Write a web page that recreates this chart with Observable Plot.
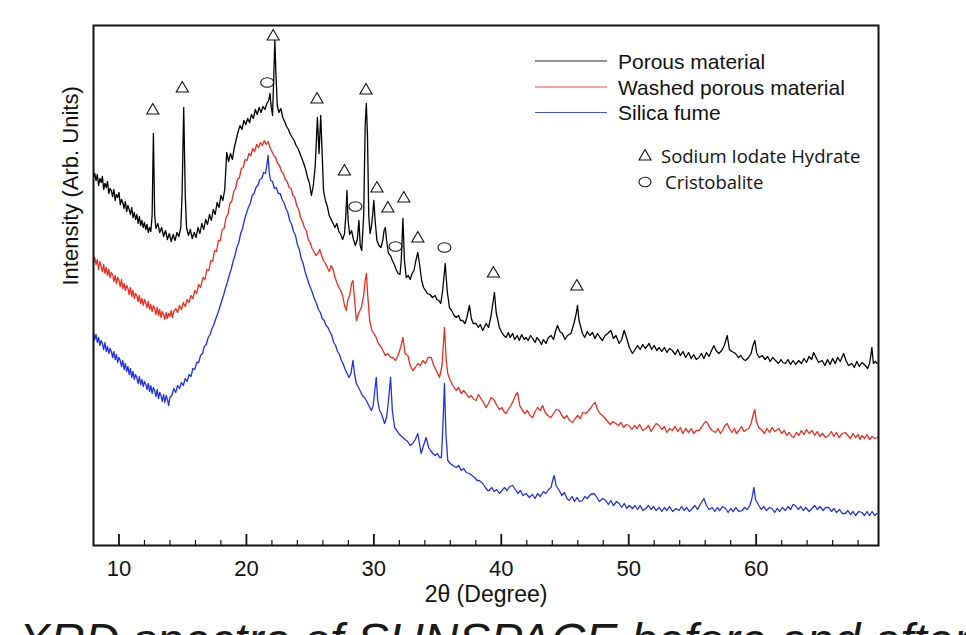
<!DOCTYPE html>
<html>
<head>
<meta charset="utf-8">
<script src="https://cdn.jsdelivr.net/npm/d3@7"></script>
<script src="https://cdn.jsdelivr.net/npm/@observablehq/plot@0.6"></script>
<style>
  html, body { margin: 0; padding: 0; background: #fff; }
  #wrap { position: relative; width: 966px; height: 635px; overflow: hidden; background: #fff; }
  #wrap svg { display: block; }
  #overlay { position: absolute; left: 0; top: 0; pointer-events: none; }
</style>
</head>
<body>
<div id="wrap"></div>
<script>
// ---------- data (2θ in degrees, intensity in arbitrary units) ----------
const seriesNames = ["Porous material", "Washed porous material", "Silica fume"];
const seriesColors = ["#000000", "#ee2b1c", "#1f31e8"];
const xTicks = [10, 20, 30, 40, 50, 60];
const minorTicks = [12, 14, 16, 18, 22, 24, 26, 28, 32, 34, 36, 38, 42, 44, 46, 48, 52, 54, 56, 58, 62, 64, 66, 68];
const xLabel = "2θ (Degree)";
const yLabel = "Intensity (Arb. Units)";
const markerNames = ["Sodium Iodate Hydrate", "Cristobalite"];
const captionText = "XRD spectra of SUNSPACE before and after";

const porous = [
[8.0,368],[8.1,372],[8.2,365],[8.3,371],[8.4,360],[8.5,367],[8.6,363],[8.7,369],[8.8,356],[8.9,362],
[9.0,358],[9.1,364],[9.2,352],[9.3,357],[9.4,355],[9.5,349],[9.6,356],[9.7,345],[9.8,351],[9.9,348],
[10.0,353],[10.1,341],[10.2,346],[10.3,343],[10.4,337],[10.5,344],[10.6,334],[10.7,340],[10.8,336],[10.9,331],
[11.0,338],[11.1,328],[11.2,333],[11.3,326],[11.4,331],[11.5,322],[11.6,329],[11.7,320],[11.8,325],[11.9,318],
[12.0,323],[12.1,316],[12.2,321],[12.3,313],[12.4,318],[12.5,314],
[12.6,330],[12.7,412],[12.8,330],[12.9,317],[13.05,322],[13.2,313],[13.35,318],[13.5,309],[13.65,315],
[13.8,306],[13.95,312],[14.1,304],[14.25,311],[14.4,305],[14.55,313],[14.7,309],[14.85,318],[14.95,350],[15.08,438],
[15.2,350],[15.3,318],[15.45,310],[15.6,316],[15.75,307],[15.9,313],[16.05,308],[16.2,318],[16.35,312],[16.5,322],
[16.65,316],[16.8,326],[16.95,321],[17.1,331],[17.25,325],[17.4,336],[17.55,331],[17.7,343],[17.85,338],[18.0,350],
[18.15,345],[18.3,356],[18.45,393],[18.6,384],[18.75,392],[18.9,386],[19.05,398],[19.2,406],[19.35,414],[19.5,420],
[19.65,416],[19.8,425],[19.95,421],[20.1,427],[20.25,423],[20.4,431],[20.55,427],[20.7,436],[20.85,431],[21.0,438],
[21.15,433],[21.3,439],[21.45,436],[21.6,442],[21.75,445],[21.85,452],[21.95,438],[22.05,430],[22.15,470],[22.23,505],
[22.32,470],[22.42,440],[22.55,433],[22.7,437],[22.85,428],[23.0,424],[23.15,419],[23.3,416],[23.45,411],[23.6,408],
[23.75,405],[23.9,400],[24.05,397],[24.2,392],[24.35,387],[24.5,382],[24.65,376],[24.8,368],[24.95,362],[25.1,350],
[25.25,360],[25.4,380],[25.57,428],[25.7,392],[25.83,430],[25.95,390],[26.05,355],[26.2,345],[26.35,339],[26.5,330],
[26.65,326],[26.8,322],[26.95,318],[27.1,322],[27.25,314],[27.4,311],[27.55,306],[27.7,312],[27.8,330],[27.89,355],
[27.98,325],[28.1,311],[28.25,315],[28.4,306],[28.55,300],[28.7,306],[28.83,325],[28.93,300],[29.05,295],[29.2,330],
[29.32,420],[29.41,442],[29.5,410],[29.6,330],[29.7,312],[29.8,318],[29.9,330],[30.0,345],[30.1,325],[30.24,305],
[30.4,300],[30.55,298],[30.7,305],[30.8,315],[30.9,318],[31.0,305],[31.15,292],[31.3,290],[31.45,285],[31.6,281],
[31.75,276],[31.9,272],[32.05,271],[32.15,285],[32.28,327],[32.4,285],[32.54,268],[32.7,270],[32.85,266],[33.0,272],
[33.15,275],[33.3,285],[33.45,293],[33.6,280],[33.75,265],[33.9,258],[34.05,255],[34.2,252],[34.4,251],[34.6,248],
[34.8,250],[34.95,246],[35.1,245],[35.25,242],[35.4,255],[35.6,282],[35.75,255],[35.93,238],[36.1,235],[36.3,230],
[36.46,228],[36.65,230],[36.8,225],[36.97,225],[37.15,222],[37.3,228],[37.5,240],[37.65,227],[37.8,222],[38.02,222],
[38.2,218],[38.35,221],[38.54,215],[38.7,219],[38.81,222],[39.0,218],[39.2,230],[39.46,253],[39.6,233],[39.85,218],
[40.0,214],[40.2,210],[40.37,208],[40.55,213],[40.7,208],[40.89,212],[41.05,206],[41.25,210],[41.41,205],[41.6,211],
[41.8,206],[41.94,208],[42.1,205],[42.3,210],[42.46,207],[42.65,203],[42.8,208],[42.98,205],[43.15,201],[43.3,206],
[43.5,202],[43.7,208],[43.9,210],[44.1,206],[44.25,214],[44.41,220],[44.6,214],[44.8,212],[45.0,206],[45.2,210],
[45.46,212],[45.7,222],[45.85,230],[45.98,240],[46.1,225],[46.37,212],[46.55,208],[46.75,214],[46.95,210],[47.15,213],
[47.35,207],[47.55,212],[47.75,208],[47.94,205],[48.15,210],[48.35,212],[48.6,215],[48.8,207],[49.0,210],[49.25,202],
[49.45,206],[49.64,215],[49.85,207],[50.05,198],[50.29,192],[50.5,196],[50.7,200],[50.9,196],[51.1,201],[51.3,197],
[51.6,202],[51.8,196],[52.0,200],[52.2,195],[52.39,198],[52.6,194],[52.8,198],[53.0,193],[53.2,197],[53.42,195],
[53.65,191],[53.85,196],[54.05,190],[54.25,194],[54.47,188],[54.7,193],[54.9,187],[55.1,191],[55.3,186],[55.51,188],
[55.7,192],[55.9,187],[56.1,193],[56.3,189],[56.5,195],[56.68,200],[56.85,195],[57.07,192],[57.3,195],[57.5,200],
[57.73,210],[57.9,196],[58.1,194],[58.38,192],[58.6,188],[58.8,190],[59.0,186],[59.17,185],[59.4,188],[59.6,192],
[59.75,200],[59.9,205],[60.05,192],[60.25,188],[60.47,190],[60.7,186],[60.9,189],[61.1,184],[61.3,188],[61.52,185],
[61.75,182],[61.95,186],[62.1,183],[62.3,182],[62.5,186],[62.7,181],[62.9,185],[63.1,181],[63.34,185],[63.55,182],
[63.75,187],[63.95,183],[64.15,189],[64.35,186],[64.51,193],[64.7,188],[64.9,183],[65.17,185],[65.4,180],[65.6,186],
[65.8,181],[66.0,187],[66.2,182],[66.4,188],[66.6,184],[66.86,192],[67.05,185],[67.25,180],[67.51,182],[67.7,178],
[67.9,184],[68.1,179],[68.3,183],[68.56,180],[68.75,177],[68.9,182],[69.0,190],[69.08,198],[69.2,182],[69.35,184],[69.5,182]
];

const washed = [
[8.0,283],[8.1,288],[8.2,281],[8.3,286],[8.4,276],[8.5,284],[8.6,279],[8.7,274],[8.8,281],[8.9,272],
[9.0,278],[9.1,270],[9.2,276],[9.3,268],[9.4,273],[9.5,271],[9.6,264],[9.7,270],[9.8,262],[9.9,268],
[10.0,265],[10.1,259],[10.2,266],[10.3,257],[10.4,262],[10.5,255],[10.6,260],[10.7,257],[10.8,251],[10.9,258],
[11.0,249],[11.1,255],[11.2,247],[11.3,252],[11.4,250],[11.5,244],[11.6,250],[11.7,242],[11.8,247],[11.9,240],
[12.0,246],[12.1,243],[12.2,238],[12.3,244],[12.4,236],[12.5,241],[12.6,234],[12.7,240],[12.8,237],[12.9,231],
[13.0,238],[13.1,230],[13.2,236],[13.3,228],[13.4,234],[13.5,231],[13.6,226],[13.7,233],[13.8,227],[13.9,232],
[14.0,229],[14.1,235],[14.2,228],[14.3,234],
[14.45,237],[14.6,233],[14.75,240],[14.9,236],[15.05,243],[15.2,239],[15.35,246],
[15.5,243],[15.65,250],[15.8,247],[15.95,255],[16.1,252],[16.25,261],[16.4,258],[16.6,268],[16.75,266],[16.9,276],
[17.05,275],[17.2,285],[17.35,284],[17.5,295],[17.65,294],[17.8,305],[17.95,305],[18.1,316],[18.25,317],[18.4,328],
[18.55,331],[18.7,342],[18.85,344],[19.0,354],[19.15,357],[19.3,366],[19.45,368],[19.6,377],[19.75,378],[19.9,386],
[20.05,385],[20.2,392],[20.35,390],[20.5,397],[20.65,394],[20.8,401],[20.95,398],[21.1,403],[21.25,400],[21.4,405],
[21.55,401],[21.7,404],[21.85,398],[22.0,394],[22.15,390],[22.3,388],[22.45,382],[22.6,380],[22.75,374],[22.9,372],
[23.05,366],[23.2,364],[23.35,358],[23.5,357],[23.65,350],[23.8,348],[23.95,340],[24.1,336],[24.25,328],[24.4,324],
[24.55,318],[24.7,315],[24.85,306],[25.0,303],[25.15,297],[25.3,294],[25.45,290],[25.6,292],[25.75,296],[25.9,290],
[26.05,285],[26.2,282],[26.35,278],[26.5,274],[26.65,280],[26.8,276],[26.95,268],[27.1,263],[27.25,258],[27.4,255],
[27.55,250],[27.7,240],[27.84,235],[27.95,245],[28.1,250],[28.25,262],[28.36,265],[28.47,248],[28.63,225],[28.8,232],
[29.02,238],[29.2,250],[29.32,265],[29.41,272],[29.52,250],[29.67,225],[29.85,215],[30.0,212],[30.19,208],[30.35,202],
[30.55,199],[30.71,195],[30.9,190],[31.1,192],[31.3,188],[31.49,188],[31.7,185],[31.9,190],[32.1,198],[32.28,208],
[32.45,192],[32.67,190],[32.85,180],[33.06,175],[33.25,178],[33.45,182],[33.65,180],[33.84,185],[34.05,182],[34.25,188],
[34.5,188],[34.7,180],[34.9,175],[35.15,168],[35.35,180],[35.54,218],[35.68,185],[35.8,172],[36.0,165],[36.2,160],
[36.46,155],[36.65,158],[36.85,152],[37.05,155],[37.24,152],[37.45,148],[37.65,150],[37.85,146],[38.02,145],[38.2,151],
[38.4,147],[38.6,143],[38.81,138],[39.0,142],[39.2,148],[39.46,145],[39.65,140],[39.85,136],[40.05,138],[40.2,134],
[40.37,132],[40.55,136],[40.75,140],[40.95,145],[41.1,150],[41.28,153],[41.45,140],[41.67,135],[41.85,132],[42.05,135],
[42.25,130],[42.46,128],[42.65,134],[42.85,138],[43.05,135],[43.24,140],[43.45,133],[43.65,130],[43.9,128],[44.1,132],
[44.3,136],[44.55,135],[44.75,130],[44.95,127],[45.15,130],[45.35,125],[45.59,123],[45.8,127],[46.0,130],[46.2,127],
[46.4,133],[46.64,132],[46.85,135],[47.05,138],[47.2,141],[47.37,143],[47.55,136],[47.75,132],[47.94,130],[48.15,127],
[48.35,124],[48.55,121],[48.75,124],[48.99,122],[49.2,120],[49.4,123],[49.6,118],[49.8,121],[50.03,120],[50.25,116],
[50.45,120],[50.65,117],[50.85,121],[51.1,115],[51.34,117],[51.55,120],[51.75,114],[51.95,118],[52.15,122],[52.39,120],
[52.6,116],[52.8,119],[53.0,113],[53.2,117],[53.42,115],[53.65,119],[53.85,114],[54.05,118],[54.25,112],[54.47,117],
[54.7,113],[54.9,117],[55.1,112],[55.3,115],[55.51,115],[55.7,118],[55.9,122],[56.05,124],[56.16,123],[56.35,118],
[56.55,115],[56.82,113],[57.0,117],[57.2,112],[57.4,116],[57.55,120],[57.73,122],[57.9,117],[58.1,113],[58.3,117],
[58.45,112],[58.64,115],[58.85,119],[59.05,114],[59.25,116],[59.42,117],[59.6,122],[59.75,130],[59.89,136],[60.02,124],
[60.2,118],[60.47,115],[60.65,112],[60.85,117],[61.05,113],[61.25,118],[61.45,114],[61.78,117],[62.0,112],[62.2,115],
[62.4,110],[62.6,113],[62.8,109],[62.95,108],[63.15,113],[63.35,110],[63.55,115],[63.75,111],[63.95,116],[64.15,112],
[64.38,115],[64.6,110],[64.8,114],[65.0,109],[65.2,112],[65.45,108],[65.69,110],[65.9,114],[66.1,109],[66.3,113],
[66.5,108],[66.75,112],[66.99,113],[67.2,110],[67.4,107],[67.6,112],[67.8,108],[68.0,111],[68.15,106],[68.3,110],
[68.5,107],[68.7,111],[68.9,106],[69.1,109],[69.3,107],[69.5,108]
];

const silica = [
[8.0,212],[8.1,206],[8.2,211],[8.3,203],[8.4,208],[8.5,200],[8.6,205],[8.7,202],[8.8,196],[8.9,203],
[9.0,194],[9.1,199],[9.2,192],[9.3,197],[9.4,194],[9.5,188],[9.6,194],[9.7,186],[9.8,191],[9.9,183],
[10.0,188],[10.1,185],[10.2,179],[10.3,185],[10.4,176],[10.5,182],[10.6,174],[10.7,179],[10.8,171],[10.9,177],
[11.0,168],[11.1,174],[11.2,166],[11.3,171],[11.4,168],[11.5,162],[11.6,169],[11.7,161],[11.8,166],[11.9,159],
[12.0,164],[12.1,161],[12.2,156],[12.3,162],[12.4,154],[12.5,160],[12.6,152],[12.7,158],[12.8,155],[12.9,149],
[13.0,156],[13.1,147],[13.2,153],[13.3,150],[13.4,144],[13.5,151],[13.6,143],[13.7,150],[13.8,146],[13.9,140],
[14.0,148],[14.15,150],[14.3,157],[14.45,153],[14.6,160],[14.75,157],[14.9,163],[15.05,160],[15.2,167],[15.35,164],
[15.5,171],[15.65,169],[15.8,177],[15.95,176],[16.1,183],[16.25,183],[16.4,190],[16.55,192],[16.7,199],[16.85,201],
[17.0,208],[17.15,211],[17.3,217],[17.45,221],[17.6,227],[17.75,232],[17.9,238],[18.05,244],[18.2,250],[18.35,257],
[18.5,263],[18.65,270],[18.8,276],[18.95,284],[19.1,290],[19.25,298],[19.4,303],[19.55,312],[19.7,317],[19.85,326],
[20.0,332],[20.15,338],[20.3,342],[20.45,350],[20.6,352],[20.75,358],[20.9,360],[21.05,366],[21.2,367],[21.35,373],
[21.5,372],[21.6,380],[21.7,390],[21.8,372],[21.9,365],[22.05,364],[22.2,357],[22.35,358],[22.5,352],[22.65,352],
[22.8,346],[22.95,343],[23.1,337],[23.25,333],[23.4,325],[23.55,321],[23.7,314],[23.85,310],[24.0,301],[24.15,296],
[24.3,287],[24.45,282],[24.6,274],[24.75,268],[24.9,262],[25.05,257],[25.2,252],[25.35,246],[25.5,242],[25.65,236],
[25.8,233],[25.95,227],[26.1,225],[26.25,220],[26.4,218],[26.54,214],[26.7,210],[26.85,203],[27.0,200],[27.15,194],
[27.3,191],[27.45,185],[27.58,182],[27.75,176],[27.9,172],[28.05,168],[28.2,172],[28.36,185],[28.5,170],[28.63,162],
[28.8,158],[28.95,154],[29.1,150],[29.25,148],[29.41,145],[29.6,140],[29.8,135],[29.95,140],[30.1,158],[30.19,168],
[30.3,145],[30.45,135],[30.58,132],[30.72,127],[30.84,122],[31.0,128],[31.15,145],[31.31,168],[31.45,135],[31.63,118],
[31.8,115],[31.95,112],[32.1,110],[32.28,108],[32.45,106],[32.65,104],[32.85,100],[33.06,102],[33.25,106],[33.45,112],
[33.6,100],[33.71,92],[33.9,100],[34.1,108],[34.3,98],[34.45,95],[34.62,92],[34.8,90],[35.0,92],[35.15,88],
[35.3,88],[35.42,120],[35.54,162],[35.66,110],[35.8,85],[36.0,82],[36.2,80],[36.46,78],[36.65,80],[36.85,75],
[37.05,77],[37.25,73],[37.5,72],[37.7,70],[37.9,68],[38.1,65],[38.28,65],[38.54,62],[38.75,58],[38.93,55],
[39.06,55],[39.25,58],[39.45,54],[39.65,56],[39.85,52],[40.05,55],[40.25,58],[40.45,55],[40.65,59],[40.89,60],
[41.1,56],[41.3,52],[41.5,55],[41.7,50],[41.95,52],[42.2,48],[42.45,51],[42.65,47],[42.85,52],[43.05,49],
[43.3,54],[43.5,52],[43.7,56],[43.9,58],[44.05,66],[44.15,70],[44.3,60],[44.55,55],[44.75,50],[44.95,53],
[45.15,47],[45.33,45],[45.55,49],[45.75,44],[45.95,48],[46.15,44],[46.37,45],[46.55,49],[46.75,47],[47.0,51],
[47.29,52],[47.5,48],[47.7,44],[47.95,47],[48.2,45],[48.4,41],[48.6,45],[48.8,40],[49.05,44],[49.25,42],
[49.45,38],[49.65,42],[49.85,37],[50.05,40],[50.29,37],[50.5,40],[50.7,36],[50.9,40],[51.1,35],[51.34,37],
[51.55,40],[51.75,36],[51.95,39],[52.15,35],[52.39,38],[52.6,34],[52.8,38],[53.0,35],[53.2,39],[53.45,34],
[53.7,37],[53.95,35],[54.15,39],[54.35,35],[54.55,38],[54.75,34],[54.99,37],[55.2,40],[55.4,36],[55.65,42],
[55.9,47],[56.1,40],[56.3,36],[56.55,38],[56.75,34],[56.95,38],[57.15,35],[57.35,39],[57.6,37],[57.8,33],
[58.0,37],[58.2,34],[58.4,38],[58.65,34],[58.9,35],[59.1,38],[59.3,36],[59.5,40],[59.65,46],[59.82,58],
[59.95,46],[60.21,40],[60.4,36],[60.6,39],[60.8,35],[61.05,38],[61.25,37],[61.45,33],[61.65,37],[61.85,34],
[62.05,38],[62.3,35],[62.5,39],[62.7,36],[62.9,41],[63.08,40],[63.3,36],[63.5,39],[63.7,35],[63.9,38],
[64.15,34],[64.38,37],[64.6,40],[64.8,36],[65.0,39],[65.25,35],[65.45,38],[65.69,38],[65.9,34],[66.1,37],
[66.3,33],[66.55,36],[66.75,32],[66.99,32],[67.2,35],[67.4,31],[67.6,34],[67.8,30],[68.05,34],[68.3,33],
[68.5,30],[68.7,34],[68.9,30],[69.1,34],[69.3,30],[69.47,32]
];

// peak annotation markers: [2θ, label height]
const sodiumIodateMarks = [
[12.65,435],[14.97,457],[22.1,509],[25.54,446],[29.38,455],[27.69,374],
[30.24,357],[32.35,347],[31.1,337],[33.45,307],[39.38,272],[45.93,259]
];
const cristobaliteMarks = [[21.63,463],[28.55,339],[31.7,299],[35.54,298]];

// ---------- build ----------
const allSeries = [porous, washed, silica];
const rows = allSeries.flatMap((arr, i) => arr.map(([a, v]) => ({angle: a, intensity: v, series: seriesNames[i]})));

const ellipseSymbol = {
  draw(context, size) {
    const r = Math.sqrt(size / Math.PI);
    const rx = r * 1.35, ry = r, k = 0.5523;
    context.moveTo(rx, 0);
    context.bezierCurveTo(rx, ry * k, rx * k, ry, 0, ry);
    context.bezierCurveTo(-rx * k, ry, -rx, ry * k, -rx, 0);
    context.bezierCurveTo(-rx, -ry * k, -rx * k, -ry, 0, -ry);
    context.bezierCurveTo(rx * k, -ry, rx, -ry * k, rx, 0);
    context.closePath();
  }
};

const chart = Plot.plot({
  width: 966,
  height: 635,
  marginLeft: 93,
  marginRight: 88,
  marginTop: 25,
  marginBottom: 90,
  style: {fontFamily: "'Liberation Sans', Arial, sans-serif", background: "#fff", color: "#111"},
  x: {domain: [8, 69.6], label: null},
  y: {domain: [0, 520], axis: null},
  color: {domain: seriesNames, range: seriesColors},
  marks: [
    Plot.line(rows, {x: "angle", y: "intensity", z: "series", stroke: "series", strokeWidth: 1.3, strokeLinejoin: "round"}),
    Plot.dot(sodiumIodateMarks, {x: d => d[0], y: d => d[1], symbol: "triangle", r: 4.5, stroke: "#111", fill: "none", strokeWidth: 1.1}),
    Plot.dot(cristobaliteMarks, {x: d => d[0], y: d => d[1], symbol: ellipseSymbol, r: 4.8, stroke: "#111", fill: "none", strokeWidth: 1.1}),
    Plot.tickX(minorTicks, {x: d => d, insetTop: 515, stroke: "#111", strokeWidth: 1.2}),
    Plot.tickX(xTicks, {x: d => d, insetTop: 509, stroke: "#111", strokeWidth: 1.8}),
    Plot.frame({stroke: "#111", strokeWidth: 2}),
    Plot.axisX({ticks: xTicks, tickSize: 0, tickPadding: 15, fontSize: 22, label: null}),
    Plot.text([xLabel], {text: d => d, frameAnchor: "bottom", dy: 56, fontSize: 23, fill: "#111"}),
    Plot.text([yLabel], {text: d => d, frameAnchor: "left", dx: -23, rotate: -90, fontSize: 22, fill: "#111"})
  ]
});

const wrap = document.getElementById("wrap");
wrap.appendChild(chart);

// ---------- legend + caption overlay ----------
const ns = "http://www.w3.org/2000/svg";
const ov = document.createElementNS(ns, "svg");
ov.setAttribute("id", "overlay");
ov.setAttribute("width", 966);
ov.setAttribute("height", 635);
function el(tag, attrs, text) {
  const e = document.createElementNS(ns, tag);
  for (const k in attrs) e.setAttribute(k, attrs[k]);
  if (text != null) e.textContent = text;
  ov.appendChild(e);
  return e;
}
const legendLineY = [61, 87, 112.5];
seriesNames.forEach((name, i) => {
  el("line", {x1: 535, x2: 607, y1: legendLineY[i], y2: legendLineY[i], stroke: seriesColors[i], "stroke-width": 1.1, opacity: 0.85});
  el("text", {x: 618, y: legendLineY[i] + 7.5, "font-family": "'Liberation Sans', Arial, sans-serif", "font-size": 21, fill: "#111"}, name);
});
// marker legend
el("path", {d: "M645,149.5 L651,160 L639,160 Z", fill: "none", stroke: "#111", "stroke-width": 1.1});
el("text", {x: 661, y: 162.5, "font-family": "'Open Sans', sans-serif", "font-size": 18.5, fill: "#111"}, markerNames[0]);
el("ellipse", {cx: 645, cy: 182, rx: 6, ry: 4.8, fill: "none", stroke: "#111", "stroke-width": 1.1});
el("text", {x: 665, y: 188.5, "font-family": "'Open Sans', sans-serif", "font-size": 18.5, fill: "#111"}, markerNames[1]);
// caption (cut off at bottom as in the reference)
el("text", {x: 18, y: 657, "font-family": "'Liberation Sans', Arial, sans-serif", "font-size": 48, "font-style": "italic", fill: "#1a1a1a"}, captionText);
wrap.appendChild(ov);
</script>
</body>
</html>
